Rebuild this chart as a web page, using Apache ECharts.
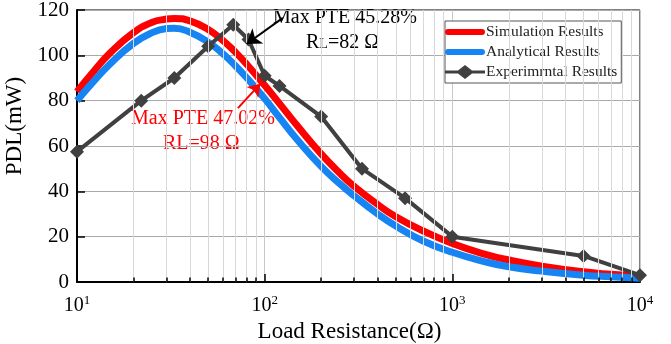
<!DOCTYPE html>
<html>
<head>
<meta charset="utf-8">
<script src="https://cdn.jsdelivr.net/npm/echarts@6/dist/echarts.min.js"></script>
<style>
  html, body { margin: 0; padding: 0; background: #fff; }
  #chart { width: 671px; height: 344px; }
</style>
</head>
<body>
<div id="chart"></div>
<script>
// load resistance (ohm) for the two smooth curves
const curveR = [10, 12, 15, 20, 25, 30, 33, 40, 50, 60, 70, 80, 100, 120, 150, 200, 250, 300, 400, 500, 700, 1000, 1500, 2000, 3000, 5000, 7000, 10000];
const simulation = [84, 92, 101, 110, 114.5, 116, 116.3, 115.2, 111.4, 106.5, 101.3, 96.2, 86.8, 78.7, 68.7, 56.5, 48.2, 42.2, 34.2, 28.8, 22.5, 17, 12.2, 9.7, 7, 4.5, 3.4, 2.5];
const analytical = [80, 87.6, 96.2, 105.3, 109.9, 111.8, 112, 110.2, 105.8, 100.6, 95.3, 90.2, 80.9, 72.5, 62.5, 51, 43.5, 38, 30, 24.7, 18.1, 13.1, 8.9, 6.7, 4.8, 3, 2.3, 1.7];

// measured points
const expR = [10, 22, 33, 50, 68, 82, 100, 120, 200, 330, 560, 1000, 5000, 10000];
const expPDL = [57.5, 80, 90, 104, 113.5, 107, 91, 86.5, 73, 50, 37, 20, 11.5, 3];

// log minor positions
const minorTicks = [20, 30, 40, 50, 60, 70, 80, 90, 200, 300, 400, 500, 600, 700, 800, 900, 2000, 3000, 4000, 5000, 6000, 7000, 8000, 9000];

const FONT = '"Liberation Serif", "DejaVu Serif", serif';

// legend icons: thick rounded bar, and line with diamond
const barIcon = 'path://M0 0 L0.1 0 L0 0.1 Z M3 4 L37 4 Q40 4 40 7 Q40 10 37 10 L3 10 Q0 10 0 7 Q0 4 3 4 Z M40 14 L39.9 14 L40 13.9 Z';
const diamondIcon = 'path://M0 5.5 L13 5.5 L20 0 L27 5.5 L40 5.5 L40 8.5 L27 8.5 L20 14 L13 8.5 L0 8.5 Z';

const chart = echarts.init(document.getElementById('chart'));

const pairs = (xs, ys) => xs.map((x, i) => [x, ys[i]]);

const option = {
    animation: false,
    backgroundColor: '#fff',
    grid: {
        left: 77, right: 31, top: 10, bottom: 62,
        outerBoundsMode: 'none', containLabel: false,
        show: true, borderColor: '#000', borderWidth: 1
    },
    legend: {
        data: [
            { name: 'Simulation Results', icon: barIcon },
            { name: 'Analytical Results', icon: barIcon },
            { name: 'Experimrntal Results', icon: diamondIcon }
        ],
        orient: 'vertical',
        left: 445, top: 21,
        itemWidth: 40, itemHeight: 14, itemGap: 4,
        padding: [3, 4, 3, 0],
        borderColor: '#555', borderWidth: 1,
        backgroundColor: '#fff',
        textStyle: { fontFamily: FONT, fontSize: 15.5, color: '#222', padding: [0, 0, 0, -4] }
    },
    xAxis: {
        type: 'log', logBase: 10, min: 10, max: 10000,
        name: 'Load Resistance(Ω)', nameLocation: 'middle', nameGap: 35,
        nameTextStyle: { fontFamily: FONT, fontSize: 23, color: '#000', padding: [0, 18, 0, 0] },
        axisLine: { lineStyle: { color: '#000', width: 2 } },
        axisTick: { inside: true, length: 8, lineStyle: { color: '#000', width: 1.5 } },
        splitLine: { show: true, lineStyle: { color: '#c8c8c8', width: 1 } },
        axisLabel: {
            margin: 12,
            formatter: v => '{b|10}{s|' + Math.round(Math.log10(v)) + '}',
            rich: {
                b: { fontFamily: FONT, fontSize: 20, color: '#000' },
                s: { fontFamily: FONT, fontSize: 13, color: '#000', verticalAlign: 'top', padding: [0, 0, 10, 0] }
            }
        }
    },
    yAxis: {
        type: 'value', min: 0, max: 120, interval: 20,
        name: 'PDL(mW)', nameLocation: 'middle', nameGap: 42,
        nameTextStyle: { fontFamily: FONT, fontSize: 23, color: '#000', padding: [0, 0, 0, 40] },
        axisLine: { show: true, lineStyle: { color: '#000', width: 2 } },
        axisTick: { show: true, inside: true, length: 8, lineStyle: { color: '#000', width: 1.5 } },
        splitLine: { show: true, lineStyle: { color: '#aaa', width: 1 } },
        axisLabel: { fontFamily: FONT, fontSize: 21, color: '#000', margin: 8 }
    },
    series: [
        {
            name: 'grid-minor', type: 'line', data: [], silent: true,
            markLine: {
                silent: true, symbol: ['none', 'none'], label: { show: false },
                animation: false,
                lineStyle: { color: '#d8d8d8', width: 1, type: 'solid' },
                data: minorTicks.map(x => ({ xAxis: x }))
            }
        },
        {
            name: 'tick-minor', type: 'line', data: [], silent: true,
            markLine: {
                silent: true, symbol: ['none', 'none'], label: { show: false },
                animation: false,
                lineStyle: { color: '#000', width: 1.5, type: 'solid' },
                data: minorTicks.map(x => [{ coord: [x, 0] }, { coord: [x, 2] }])
            }
        },
        {
            name: 'Simulation Results', type: 'line', smooth: true, symbol: 'none',
            data: pairs(curveR, simulation),
            color: '#ff0000',
            lineStyle: { width: 7, color: '#ff0000' },
            markLine: {
                silent: true, symbol: ['none', 'arrow'], symbolSize: 12, label: { show: false },
                lineStyle: { color: '#ff0000', width: 2, type: 'solid' },
                data: [[{ coord: [72, 76.7] }, { coord: [95, 87.5] }]]
            }
        },
        {
            name: 'Analytical Results', type: 'line', smooth: true, symbol: 'none',
            data: pairs(curveR, analytical),
            color: '#1684f2',
            lineStyle: { width: 7, color: '#1684f2' }
        },
        {
            name: 'Experimrntal Results', type: 'line', symbol: 'diamond', symbolSize: 14,
            data: pairs(expR, expPDL),
            color: '#404040',
            lineStyle: { width: 4, color: '#404040' },
            itemStyle: { color: '#404040' },
            markLine: {
                silent: true, symbol: ['none', 'arrow'], symbolSize: 14, label: { show: false },
                lineStyle: { color: '#000', width: 2, type: 'solid' },
                data: [[{ coord: [125, 116.5] }, { coord: [80, 105] }]]
            }
        }
    ],
    graphic: [
        { type: 'text', left: 273, top: 8, style: { text: 'Max PTE 45.28%', font: '20px ' + FONT, fill: '#000' } },
        {
            type: 'text', left: 306, top: 33,
            style: {
                text: '{a|R}{b|L}{a|=82 Ω}',
                rich: {
                    a: { fontFamily: FONT, fontSize: 20, lineHeight: 22, fill: '#000' },
                    b: { fontFamily: FONT, fontSize: 14, lineHeight: 15, fill: '#000', verticalAlign: 'bottom', padding: [0, 0, 3, 0] }
                }
            }
        },
        { type: 'text', left: 131, top: 109, style: { text: 'Max PTE 47.02%', font: '20px ' + FONT, fill: '#ff0000' } },
        { type: 'text', left: 163, top: 134, style: { text: 'RL=98 Ω', font: '20px ' + FONT, fill: '#ff0000' } }
    ]
};

chart.setOption(option);
</script>
</body>
</html>
